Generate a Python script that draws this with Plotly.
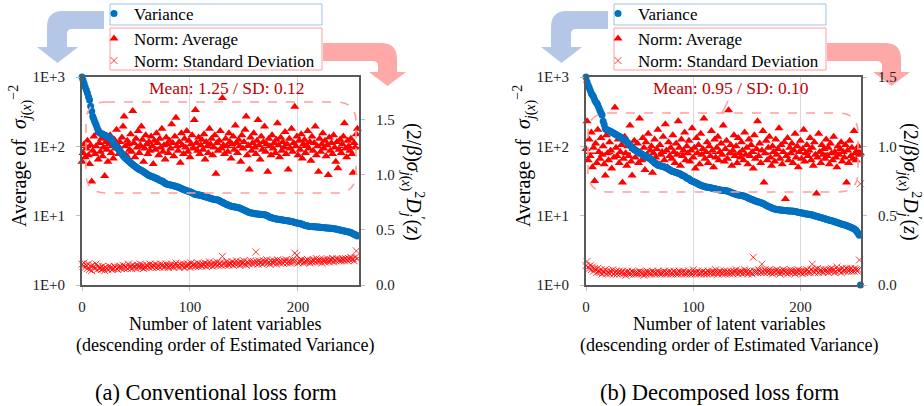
import plotly.graph_objects as go

W, H = 924, 406
FONT = "Liberation Serif, Times New Roman, Times, serif"
BLUE = "#0070C0"
RED = "#FF0000"
SDRED = "rgba(255,0,0,0.75)"

# ---------------- data ----------------
X_L = list(range(256))
X_R = list(range(257))

VAR_L = [
    1000, 900, 800, 720, 650, 590, 520, 467, 380, 320, 270, 245, 222, 205, 185, 170,
    160, 155, 152, 150, 147, 145, 142, 140, 137, 134, 131, 128, 120, 112, 106, 101,
    99, 94, 90, 86, 82, 78, 74, 71, 68, 66, 64, 62, 60, 58, 56, 54.5,
    53, 51.5, 50, 49, 47.5, 46.5, 46, 45, 44, 43, 42, 41, 40, 39, 38, 37.5,
    37, 36.5, 36, 35.5, 35, 34.5, 34, 33, 32.5, 32, 31.5, 31, 30, 29.3, 28.8, 28.5,
    28.2, 28, 27.8, 27.5, 27.2, 27, 26.7, 26.4, 26.2, 26, 25.5, 25, 24.6, 24.2, 23.8, 23.5,
    23.2, 22.9, 22.6, 22.4, 22.2, 21.8, 21.4, 21, 20.6, 20.3, 20.1, 20, 19.9, 19.8, 19.6, 19.4,
    19.2, 19, 18.8, 18.6, 18.4, 18.2, 18, 17.8, 17.6, 17.4, 17.2, 17.1, 17, 16.9, 16.8, 16.5,
    16.2, 15.9, 15.6, 15.3, 15, 14.7, 14.5, 14.3, 14.1, 13.9, 13.7, 13.6, 13.5, 13.4, 13.3, 13.2,
    13.1, 13, 12.9, 12.7, 12.5, 12.3, 12.1, 11.9, 11.7, 11.5, 11.3, 11.1, 11, 10.9, 10.8, 10.8,
    10.7, 10.7, 10.6, 10.6, 10.5, 10.5, 10.4, 10.4, 10.3, 10.3, 10.2, 10.1, 9.9, 9.7, 9.5, 9.4,
    9.3, 9.2, 9.1, 9.0, 8.95, 8.9, 8.85, 8.8, 8.75, 8.7, 8.65, 8.6, 8.55, 8.5, 8.45, 8.4,
    8.35, 8.3, 8.25, 8.2, 8.1, 8.0, 7.9, 7.85, 7.8, 7.75, 7.7, 7.6, 7.5, 7.4, 7.3, 7.2,
    7.15, 7.1, 7.05, 7.0, 6.98, 6.96, 6.94, 6.92, 6.9, 6.88, 6.86, 6.84, 6.82, 6.8, 6.77, 6.74,
    6.71, 6.68, 6.66, 6.64, 6.62, 6.6, 6.58, 6.56, 6.54, 6.5, 6.45, 6.4, 6.35, 6.3, 6.25, 6.2,
    6.15, 6.1, 6.05, 6.0, 5.95, 5.9, 5.85, 5.8, 5.75, 5.7, 5.6, 5.5, 5.4, 5.3, 5.2, 5.1,
]

AVG_L = [
    1.12, 1.20, 1.28, 1.16, 1.24, 1.31, 1.18, 1.10, 1.27, 0.94, 1.22, 1.35, 1.19, 1.26, 1.38, 1.14,
    1.29, 1.21, 1.33, 1.17, 1.25, 0.99, 1.30, 1.23, 1.12, 1.28, 1.36, 1.20, 1.26, 1.15, 1.32, 1.24,
    1.41, 1.27, 1.19, 1.30, 1.22, 1.34, 1.44, 1.53, 1.26, 1.18, 1.31, 1.28, 1.23, 1.37, 1.21, 1.58,
    1.29, 1.16, 1.33, 1.25, 1.40, 1.20, 1.27, 1.44, 1.32, 1.12, 1.24, 1.36, 1.28, 1.19, 1.30, 1.22,
    1.35, 1.26, 1.10, 1.31, 1.23, 1.38, 1.29, 1.18, 1.33, 1.25, 1.42, 1.21, 1.27, 1.14, 1.34, 1.28,
    1.20, 1.31, 1.24, 1.46, 1.29, 1.17, 1.35, 1.52, 1.26, 1.22, 1.30, 1.11, 1.38, 1.27, 1.19, 1.33,
    1.25, 1.40, 1.21, 1.31, 1.16, 1.28, 1.36, 1.24, 1.50, 1.59, 1.29, 1.22, 1.34, 1.19, 1.27, 1.32,
    1.23, 1.37, 1.14, 1.30, 1.26, 1.20, 1.42, 1.28, 1.33, 1.18, 1.25, 1.36, 1.01, 1.29, 1.22, 1.31,
    1.40, 1.24, 1.70, 1.27, 1.19, 1.33, 1.26, 1.21, 1.38, 1.30, 1.15, 1.28, 1.35, 1.23, 1.45, 1.29,
    1.20, 1.32, 1.26, 1.12, 1.36, 1.24, 1.30, 1.41, 1.53, 1.18, 1.27, 1.05, 1.34, 1.22, 1.29, 1.38,
    1.25, 1.19, 1.31, 1.50, 1.27, 1.14, 1.35, 1.23, 1.30, 1.44, 1.21, 1.28, 1.03, 1.33, 1.26, 1.18,
    1.36, 1.24, 1.29, 1.20, 1.32, 1.47, 1.27, 1.16, 1.34, 1.22, 1.30, 1.25, 1.39, 1.19, 1.28, 1.05,
    1.33, 1.24, 1.42, 1.21, 1.29, 1.62, 1.26, 1.35, 1.18, 1.31, 1.23, 1.37, 1.15, 1.28, 1.32, 1.20,
    1.27, 1.40, 1.24, 1.30, 1.13, 1.35, 1.22, 1.29, 1.44, 1.18, 1.26, 1.03, 1.33, 1.21, 1.28, 1.38,
    1.24, 1.31, 1.17, 1.27, 1.00, 1.34, 1.22, 1.29, 1.19, 1.36, 1.25, 1.12, 1.30, 1.06, 1.23, 1.32,
    1.20, 1.28, 1.35, 1.47, 1.24, 1.16, 1.31, 1.26, 1.22, 1.33, 1.19, 1.02, 1.29, 1.25, 1.37, 1.42,
]

SD_L = [
    0.19, 0.17, 0.20, 0.16, 0.18, 0.15, 0.19, 0.14, 0.17, 0.13, 0.18, 0.16, 0.15, 0.19, 0.14, 0.17,
    0.15, 0.16, 0.14, 0.17, 0.15, 0.13, 0.16, 0.15, 0.14, 0.17, 0.15, 0.16, 0.14, 0.15, 0.17, 0.16,
    0.15, 0.14, 0.16, 0.17, 0.15, 0.16, 0.18, 0.15, 0.17, 0.16, 0.15, 0.19, 0.16, 0.17, 0.15, 0.18,
    0.16, 0.17, 0.15, 0.18, 0.16, 0.17, 0.19, 0.16, 0.18, 0.15, 0.17, 0.16, 0.18, 0.17, 0.16, 0.19,
    0.17, 0.16, 0.18, 0.17, 0.19, 0.16, 0.18, 0.17, 0.16, 0.19, 0.17, 0.18, 0.16, 0.17, 0.19, 0.18,
    0.16, 0.18, 0.17, 0.19, 0.17, 0.16, 0.18, 0.20, 0.17, 0.18, 0.16, 0.19, 0.18, 0.17, 0.19, 0.16,
    0.18, 0.17, 0.19, 0.18, 0.16, 0.20, 0.17, 0.18, 0.19, 0.17, 0.18, 0.20, 0.17, 0.19, 0.18, 0.17,
    0.19, 0.18, 0.20, 0.17, 0.19, 0.18, 0.21, 0.18, 0.19, 0.17, 0.20, 0.18, 0.19, 0.21, 0.18, 0.19,
    0.20, 0.18, 0.26, 0.19, 0.20, 0.18, 0.21, 0.19, 0.18, 0.20, 0.19, 0.21, 0.18, 0.20, 0.19, 0.22,
    0.19, 0.20, 0.18, 0.21, 0.19, 0.20, 0.22, 0.19, 0.18, 0.21, 0.20, 0.19, 0.22, 0.20, 0.19, 0.21,
    0.20, 0.30, 0.21, 0.19, 0.22, 0.20, 0.21, 0.19, 0.22, 0.20, 0.21, 0.23, 0.20, 0.21, 0.19, 0.22,
    0.21, 0.20, 0.22, 0.21, 0.19, 0.23, 0.21, 0.20, 0.22, 0.21, 0.20, 0.22, 0.21, 0.23, 0.20, 0.21,
    0.22, 0.20, 0.21, 0.23, 0.21, 0.29, 0.22, 0.27, 0.20, 0.22, 0.21, 0.23, 0.22, 0.20, 0.21, 0.22,
    0.21, 0.23, 0.22, 0.20, 0.22, 0.21, 0.23, 0.22, 0.21, 0.24, 0.22, 0.21, 0.23, 0.22, 0.20, 0.22,
    0.23, 0.21, 0.22, 0.24, 0.22, 0.21, 0.23, 0.22, 0.24, 0.21, 0.23, 0.22, 0.24, 0.23, 0.22, 0.23,
    0.22, 0.24, 0.23, 0.22, 0.24, 0.23, 0.22, 0.24, 0.23, 0.25, 0.23, 0.24, 0.22, 0.25, 0.31, 0.24,
]

VAR_R = [
    1000, 850, 760, 700, 640, 580, 550, 520, 470, 440, 420, 395, 360, 330, 305, 282,
    230, 205, 180, 175, 172, 169, 166, 163, 160, 157, 154, 151, 148, 145, 142, 139,
    136, 133, 130, 127, 124, 120, 116, 112, 108, 104, 100, 96, 92, 90, 88, 86,
    84, 82, 80, 78.5, 77, 75.5, 74, 72.5, 71, 69.5, 68.5, 67.5, 66, 64, 62, 60,
    58, 56.5, 55, 54, 53, 52.5, 52, 51.5, 51, 50.5, 50, 49, 48, 47, 46, 45,
    44, 43.5, 43, 42.5, 42, 41.5, 41, 40.5, 40, 39, 38, 37.5, 37, 36, 35, 34.5,
    34, 33, 32, 31.5, 31, 30.5, 30, 29.5, 29, 28.5, 28, 27.5, 27, 26.8, 26.5, 26.2,
    26, 25.8, 25.6, 25.4, 25.2, 25, 24.8, 24.6, 24.4, 24.2, 24, 23.8, 23.6, 23.4, 23.3, 23.2,
    23.1, 23, 22.9, 22.8, 22.6, 22.3, 22, 21.7, 21.4, 21.1, 20.8, 20.5, 20.3, 20.1, 19.9, 19.8,
    19.6, 19.5, 19.4, 19.2, 19, 18.7, 18.4, 18.1, 17.8, 17.5, 17.3, 17.1, 16.8, 16.5, 16.3, 16.1,
    15.9, 15.7, 15.6, 15.4, 15.2, 15, 14.7, 14.4, 14.1, 13.9, 13.6, 13.4, 13.2, 13, 12.8, 12.6,
    12.5, 12.4, 12.3, 12.2, 12.15, 12.1, 12.05, 12, 11.95, 11.9, 11.85, 11.8, 11.75, 11.7, 11.7, 11.65,
    11.65, 11.6, 11.6, 11.5, 11.4, 11.3, 11.2, 11.1, 11.0, 10.95, 10.9, 10.8, 10.7, 10.65, 10.6, 10.5,
    10.45, 10.4, 10.3, 10.2, 10.1, 10.0, 9.9, 9.8, 9.7, 9.6, 9.5, 9.4, 9.3, 9.2, 9.1, 9.0,
    8.9, 8.8, 8.7, 8.6, 8.5, 8.45, 8.4, 8.3, 8.2, 8.1, 8.0, 7.9, 7.8, 7.7, 7.6, 7.5,
    7.45, 7.4, 7.3, 7.2, 7.1, 7.0, 6.9, 6.8, 6.7, 6.6, 6.5, 6.3, 6.1, 5.8, 5.5, 5.2,
    1.0,
]

AVG_R = [
    0.98, 1.18, 0.90, 1.05, 0.93, 1.10, 0.85, 0.99, 0.75, 1.02, 0.88, 1.12, 0.96, 0.91, 1.06, 0.94,
    1.00, 0.87, 0.79, 1.08, 0.95, 0.90, 1.03, 0.97, 0.84, 1.10, 0.92, 1.28, 0.99, 0.93, 1.05, 0.88,
    0.96, 1.01, 0.74, 0.91, 1.07, 0.95, 0.86, 1.00, 0.93, 1.15, 0.89, 0.79, 0.98, 1.04, 0.92, 0.97,
    1.02, 0.88, 1.20, 0.95, 0.90, 1.06, 0.99, 0.83, 1.03, 0.94, 1.09, 0.91, 0.97, 1.00, 0.81, 0.95,
    1.05, 0.92, 0.98, 1.12, 0.87, 1.01, 0.94, 0.96, 1.07, 0.90, 1.16, 0.97, 0.85, 1.03, 0.93, 0.99,
    0.91, 1.08, 0.96, 0.88, 1.02, 0.94, 1.18, 0.99, 0.86, 1.05, 0.93, 0.97, 1.10, 0.90, 1.00, 0.95,
    1.04, 0.89, 0.97, 1.13, 0.92, 0.99, 0.84, 1.06, 0.95, 1.01, 0.87, 1.09, 0.94, 0.98, 1.20, 0.91,
    0.96, 1.03, 0.88, 1.00, 0.93, 1.11, 0.97, 0.85, 1.05, 0.92, 0.99, 1.07, 0.90, 0.96, 1.02, 0.94,
    1.15, 0.89, 0.98, 1.04, 0.91, 1.26, 0.95, 1.01, 0.86, 0.97, 1.08, 0.93, 1.00, 0.88, 1.06, 0.95,
    0.92, 1.03, 0.97, 0.90, 1.10, 0.94, 0.99, 0.87, 1.05, 0.93, 1.01, 0.96, 0.84, 1.08, 0.91, 0.98,
    1.18, 0.93, 1.02, 0.88, 0.97, 1.11, 0.74, 0.95, 1.04, 0.90, 0.99, 1.07, 0.92, 0.86, 1.00, 0.96,
    0.89, 1.05, 0.94, 0.98, 1.13, 0.91, 1.01, 0.87, 0.96, 1.03, 0.62, 0.93, 1.06, 0.90, 0.99, 0.95,
    1.02, 0.88, 0.97, 1.09, 0.92, 1.00, 0.85, 0.96, 1.04, 0.91, 0.98, 1.12, 0.89, 0.95, 1.01, 0.93,
    0.97, 1.06, 0.90, 0.99, 0.86, 1.03, 0.94, 0.66, 0.92, 1.09, 0.96, 0.88, 1.01, 0.94, 0.98, 0.91,
    1.05, 0.93, 0.99, 0.87, 1.02, 0.95, 0.90, 1.07, 0.96, 0.92, 0.85, 1.00, 0.94, 0.98, 1.03, 0.89,
    0.96, 0.92, 1.01, 0.74, 0.97, 0.88, 1.04, 0.93, 0.99, 0.91, 1.11, 0.95, 0.90, 0.97, 1.00, 0.94,
    0.95,
]

SD_R = [
    0.14, 0.17, 0.13, 0.12, 0.14, 0.11, 0.13, 0.10, 0.12, 0.11, 0.09, 0.12, 0.10, 0.09, 0.11, 0.08,
    0.10, 0.09, 0.11, 0.08, 0.10, 0.09, 0.08, 0.10, 0.09, 0.11, 0.08, 0.09, 0.10, 0.08, 0.09, 0.10,
    0.08, 0.09, 0.10, 0.08, 0.09, 0.07, 0.09, 0.10, 0.08, 0.09, 0.08, 0.10, 0.09, 0.08, 0.09, 0.08,
    0.09, 0.08, 0.10, 0.09, 0.08, 0.09, 0.07, 0.09, 0.08, 0.10, 0.09, 0.08, 0.09, 0.08, 0.10, 0.09,
    0.08, 0.09, 0.08, 0.10, 0.09, 0.08, 0.09, 0.08, 0.09, 0.10, 0.08, 0.09, 0.08, 0.09, 0.10, 0.08,
    0.09, 0.08, 0.10, 0.09, 0.08, 0.09, 0.08, 0.10, 0.09, 0.08, 0.09, 0.10, 0.08, 0.09, 0.08, 0.09,
    0.10, 0.08, 0.09, 0.08, 0.11, 0.09, 0.08, 0.09, 0.10, 0.08, 0.09, 0.08, 0.09, 0.10, 0.08, 0.09,
    0.09, 0.08, 0.10, 0.09, 0.08, 0.09, 0.10, 0.08, 0.09, 0.11, 0.09, 0.08, 0.09, 0.10, 0.09, 0.08,
    0.09, 0.10, 0.08, 0.09, 0.10, 0.09, 0.08, 0.10, 0.09, 0.08, 0.10, 0.09, 0.11, 0.09, 0.08, 0.10,
    0.09, 0.10, 0.08, 0.09, 0.11, 0.09, 0.10, 0.08, 0.09, 0.10, 0.09, 0.08, 0.20, 0.10, 0.09, 0.10,
    0.09, 0.11, 0.10, 0.09, 0.15, 0.10, 0.09, 0.11, 0.10, 0.09, 0.10, 0.11, 0.09, 0.10, 0.08, 0.10,
    0.09, 0.10, 0.11, 0.09, 0.10, 0.08, 0.10, 0.09, 0.11, 0.10, 0.09, 0.10, 0.08, 0.10, 0.09, 0.11,
    0.10, 0.09, 0.10, 0.08, 0.10, 0.09, 0.11, 0.10, 0.09, 0.10, 0.08, 0.10, 0.09, 0.10, 0.11, 0.09,
    0.10, 0.09, 0.11, 0.15, 0.10, 0.09, 0.11, 0.10, 0.12, 0.09, 0.10, 0.11, 0.10, 0.09, 0.11, 0.10,
    0.11, 0.10, 0.09, 0.11, 0.10, 0.12, 0.10, 0.11, 0.09, 0.10, 0.13, 0.11, 0.10, 0.11, 0.09, 0.12,
    0.10, 0.11, 0.10, 0.12, 0.11, 0.10, 0.11, 0.12, 0.10, 0.11, 0.10, 0.12, 0.11, 0.10, 0.11, 0.18,
    0.73,
]

MEAN_L, MEAN_R = 1.25, 0.95
NOTE_L = "Mean: 1.25 / SD: 0.12"
NOTE_R = "Mean: 0.95 / SD: 0.10"
LOG_TICKS = [1, 10, 100, 1000]
LOG_TEXT = ["1E+0", "1E+1", "1E+2", "1E+3"]
LIN_TICKS = [0, 0.5, 1.0, 1.5]
LIN_TEXT = ["0.0", "0.5", "1.0", "1.5"]
X_TICKS = [0, 100, 200]

# ---------------- helpers (pixel -> paper) ----------------
def fx(x):
    return x / W


def fy(y):
    return 1 - y / H


def path(cmds):
    out = []
    for c in cmds:
        op, pts = c[0], c[1:]
        out.append(op + " " + " ".join(f"{fx(x):.5f},{fy(y):.5f}" for x, y in pts))
    return " ".join(out) + " Z"


def rounded_rect(x0, y0, x1, y1, r):
    return path([
        ("M", (x0 + r, y0)), ("L", (x1 - r, y0)), ("Q", (x1, y0), (x1, y0 + r)),
        ("L", (x1, y1 - r)), ("Q", (x1, y1), (x1 - r, y1)), ("L", (x0 + r, y1)),
        ("Q", (x0, y1), (x0, y1 - r)), ("L", (x0, y0 + r)), ("Q", (x0, y0), (x0 + r, y0)),
    ])


def blue_arrow(o):
    return path([
        ("M", (104 + o, 11)), ("L", (63 + o, 11)), ("Q", (47 + o, 11), (47 + o, 27)),
        ("L", (47 + o, 47)), ("L", (37 + o, 47)), ("L", (57.5 + o, 63)), ("L", (78 + o, 47)),
        ("L", (67 + o, 47)), ("L", (67 + o, 34)), ("Q", (67 + o, 29), (72 + o, 29)),
        ("L", (104 + o, 29)),
    ])


def pink_arrow(o):
    return path([
        ("M", (323 + o, 43)), ("L", (381 + o, 43)), ("Q", (397 + o, 43), (397 + o, 59)),
        ("L", (397 + o, 72)), ("L", (406 + o, 72)), ("L", (387.5 + o, 86)), ("L", (369 + o, 72)),
        ("L", (378 + o, 72)), ("L", (378 + o, 66)), ("Q", (378 + o, 61), (373 + o, 61)),
        ("L", (323 + o, 61)),
    ])


fig = go.Figure()

# panel a
fig.add_trace(go.Scatter(x=X_L, y=AVG_L, mode="markers", name="Norm: Average",
                         marker=dict(symbol="triangle-up", size=8, color=RED),
                         xaxis="x", yaxis="y", legend="legend2", cliponaxis=False))
fig.add_trace(go.Scatter(x=X_L, y=SD_L, mode="markers", name="Norm: Standard Deviation",
                         marker=dict(symbol="x-thin", size=7, color=SDRED,
                                     line=dict(color=SDRED, width=1)),
                         xaxis="x", yaxis="y", legend="legend3", cliponaxis=False))
fig.add_trace(go.Scatter(x=X_L, y=VAR_L, mode="markers", name="Variance",
                         marker=dict(size=7, color=BLUE),
                         xaxis="x", yaxis="y2", legend="legend", cliponaxis=False))
# panel b
fig.add_trace(go.Scatter(x=X_R, y=AVG_R, mode="markers", name="Norm: Average",
                         marker=dict(symbol="triangle-up", size=8, color=RED),
                         xaxis="x2", yaxis="y3", legend="legend5", cliponaxis=False))
fig.add_trace(go.Scatter(x=X_R, y=SD_R, mode="markers", name="Norm: Standard Deviation",
                         marker=dict(symbol="x-thin", size=7, color=SDRED,
                                     line=dict(color=SDRED, width=1)),
                         xaxis="x2", yaxis="y3", legend="legend6", cliponaxis=False))
fig.add_trace(go.Scatter(x=X_R, y=VAR_R, mode="markers", name="Variance",
                         marker=dict(size=7, color=BLUE),
                         xaxis="x2", yaxis="y4", legend="legend4", cliponaxis=False))

AX = dict(showline=True, linecolor="#595959", linewidth=2, ticks="outside", ticklen=4,
          tickcolor="#BFBFBF", zeroline=False, tickfont=dict(family=FONT, size=15, color="#222"))
XAX = dict(AX, range=[0, 256.5], tickvals=X_TICKS, showgrid=True, gridcolor="#D9D9D9",
           gridwidth=1, mirror=True, ticklabelstandoff=3)
YLIN = dict(AX, side="right", showgrid=False, tickvals=LIN_TICKS, ticktext=LIN_TEXT,
            ticklabelstandoff=8)
YLOG = dict(AX, side="left", type="log", range=[0, 3], showgrid=False, tickvals=LOG_TICKS,
            ticktext=LOG_TEXT, ticklabelstandoff=8)

legfont = dict(family=FONT, size=17, color="black")
LEG = dict(xanchor="left", yanchor="top", bgcolor="rgba(0,0,0,0)", borderwidth=0,
           font=legfont, itemwidth=30, tracegroupgap=0)

OFF = 504
shapes = []
annotations = []
for o, mean, note, yref in [(0, MEAN_L, NOTE_L, "y"), (OFF, MEAN_R, NOTE_R, "y3")]:
    xref = "x" if o == 0 else "x2"
    shapes += [
        dict(type="path", path=blue_arrow(o), xref="paper", yref="paper",
             fillcolor="#B4C7E7", line=dict(width=0), layer="below"),
        dict(type="path", path=pink_arrow(o), xref="paper", yref="paper",
             fillcolor="#FFA8A8", line=dict(width=0), layer="below"),
        dict(type="rect", xref="paper", yref="paper", x0=fx(110 + o), x1=fx(322 + o),
             y0=fy(25), y1=fy(4), line=dict(color="#9DC3E6", width=1), fillcolor="white",
             layer="below"),
        dict(type="rect", xref="paper", yref="paper", x0=fx(110 + o), x1=fx(322 + o),
             y0=fy(70), y1=fy(28), line=dict(color="#FF9F9F", width=1), fillcolor="white",
             layer="below"),
        dict(type="line", xref=xref, yref=yref, x0=0, x1=259, y0=mean, y1=mean,
             line=dict(color=RED, width=1.3, dash="dash"), layer="between"),
    ]
    if o == 0:
        box = rounded_rect(86, 102, 356, 193, 20)
    else:
        box = rounded_rect(588, 113, 858, 192, 20)
    shapes.append(dict(type="path", path=box, xref="paper", yref="paper",
                       line=dict(color="#FF9F9F", width=1.6, dash="dash"), layer="above"))
    annotations += [
        dict(text=note, x=fx(227 + o), y=fy(88), xref="paper", yref="paper", showarrow=False,
             xanchor="center", yanchor="middle", font=dict(family=FONT, size=17.5, color="#C00000")),
        dict(text="Number of latent variables", x=fx(225 + o), y=fy(324), xref="paper",
             yref="paper", showarrow=False, xanchor="center", yanchor="middle",
             font=dict(family=FONT, size=18, color="black")),
        dict(text="(descending order of Estimated Variance)", x=fx(225 + o), y=fy(345),
             xref="paper", yref="paper", showarrow=False, xanchor="center", yanchor="middle",
             font=dict(family=FONT, size=18, color="black")),
        dict(text="Average of  <i>σ</i><sub><i>j</i>(<i>x</i>)</sub><sup>−2</sup>",
             x=fx(20 + o), y=fy(156), xref="paper", yref="paper", showarrow=False,
             textangle=-90, xanchor="center", yanchor="middle",
             font=dict(family=FONT, size=20, color="black")),
        dict(text="(2/<i>β</i>)<i>σ</i><sub><i>j</i>(<i>x</i>)</sub><sup>2</sup>"
                  "<i>D</i><sub><i>j</i></sub><sup>′</sup>(<i>z</i>)",
             x=fx(413 + min(o, 497)), y=fy(182), xref="paper", yref="paper", showarrow=False,
             textangle=90, xanchor="center", yanchor="middle",
             font=dict(family=FONT, size=20, color="black")),
    ]

shapes.append(dict(type="line", xref="paper", yref="paper", x0=fx(728), y0=fy(101),
                   x1=fx(722), y1=fy(113), line=dict(color="#FF9F9F", width=1.5)))

annotations += [
    dict(text="(a) Conventional loss form", x=fx(216), y=fy(392), xref="paper", yref="paper",
         showarrow=False, xanchor="center", yanchor="middle",
         font=dict(family=FONT, size=22.5, color="black")),
    dict(text="(b) Decomposed loss form", x=fx(720), y=fy(392), xref="paper", yref="paper",
         showarrow=False, xanchor="center", yanchor="middle",
         font=dict(family=FONT, size=22.5, color="black")),
]

# legend rows: item centres wanted at y = 14, 39, 61 px (centre ~18 px below legend top)
ROW_TOP = [14 - 18, 39 - 18, 61 - 18]

fig.update_layout(
    width=W, height=H, margin=dict(l=0, r=0, t=0, b=0, autoexpand=False),
    paper_bgcolor="white", plot_bgcolor="rgba(0,0,0,0)",
    font=dict(family=FONT, color="black"),
    xaxis=dict(XAX, domain=[fx(82), fx(359)], anchor="y"),
    yaxis=dict(YLIN, domain=[fy(285), fy(77)], range=[0, 1.89], anchor="x"),
    yaxis2=dict(YLOG, overlaying="y", anchor="x"),
    xaxis2=dict(XAX, domain=[fx(586), fx(861)], anchor="y3"),
    yaxis3=dict(YLIN, domain=[fy(285), fy(77)], range=[0, 1.5], anchor="x2"),
    yaxis4=dict(YLOG, overlaying="y3", anchor="x2"),
    legend=dict(LEG, x=fx(94), y=fy(ROW_TOP[0])),
    legend2=dict(LEG, x=fx(94), y=fy(ROW_TOP[1])),
    legend3=dict(LEG, x=fx(94), y=fy(ROW_TOP[2])),
    legend4=dict(LEG, x=fx(94 + OFF), y=fy(ROW_TOP[0])),
    legend5=dict(LEG, x=fx(94 + OFF), y=fy(ROW_TOP[1])),
    legend6=dict(LEG, x=fx(94 + OFF), y=fy(ROW_TOP[2])),
    shapes=shapes,
    annotations=annotations,
    showlegend=True,
)

fig.write_html("out.html")
